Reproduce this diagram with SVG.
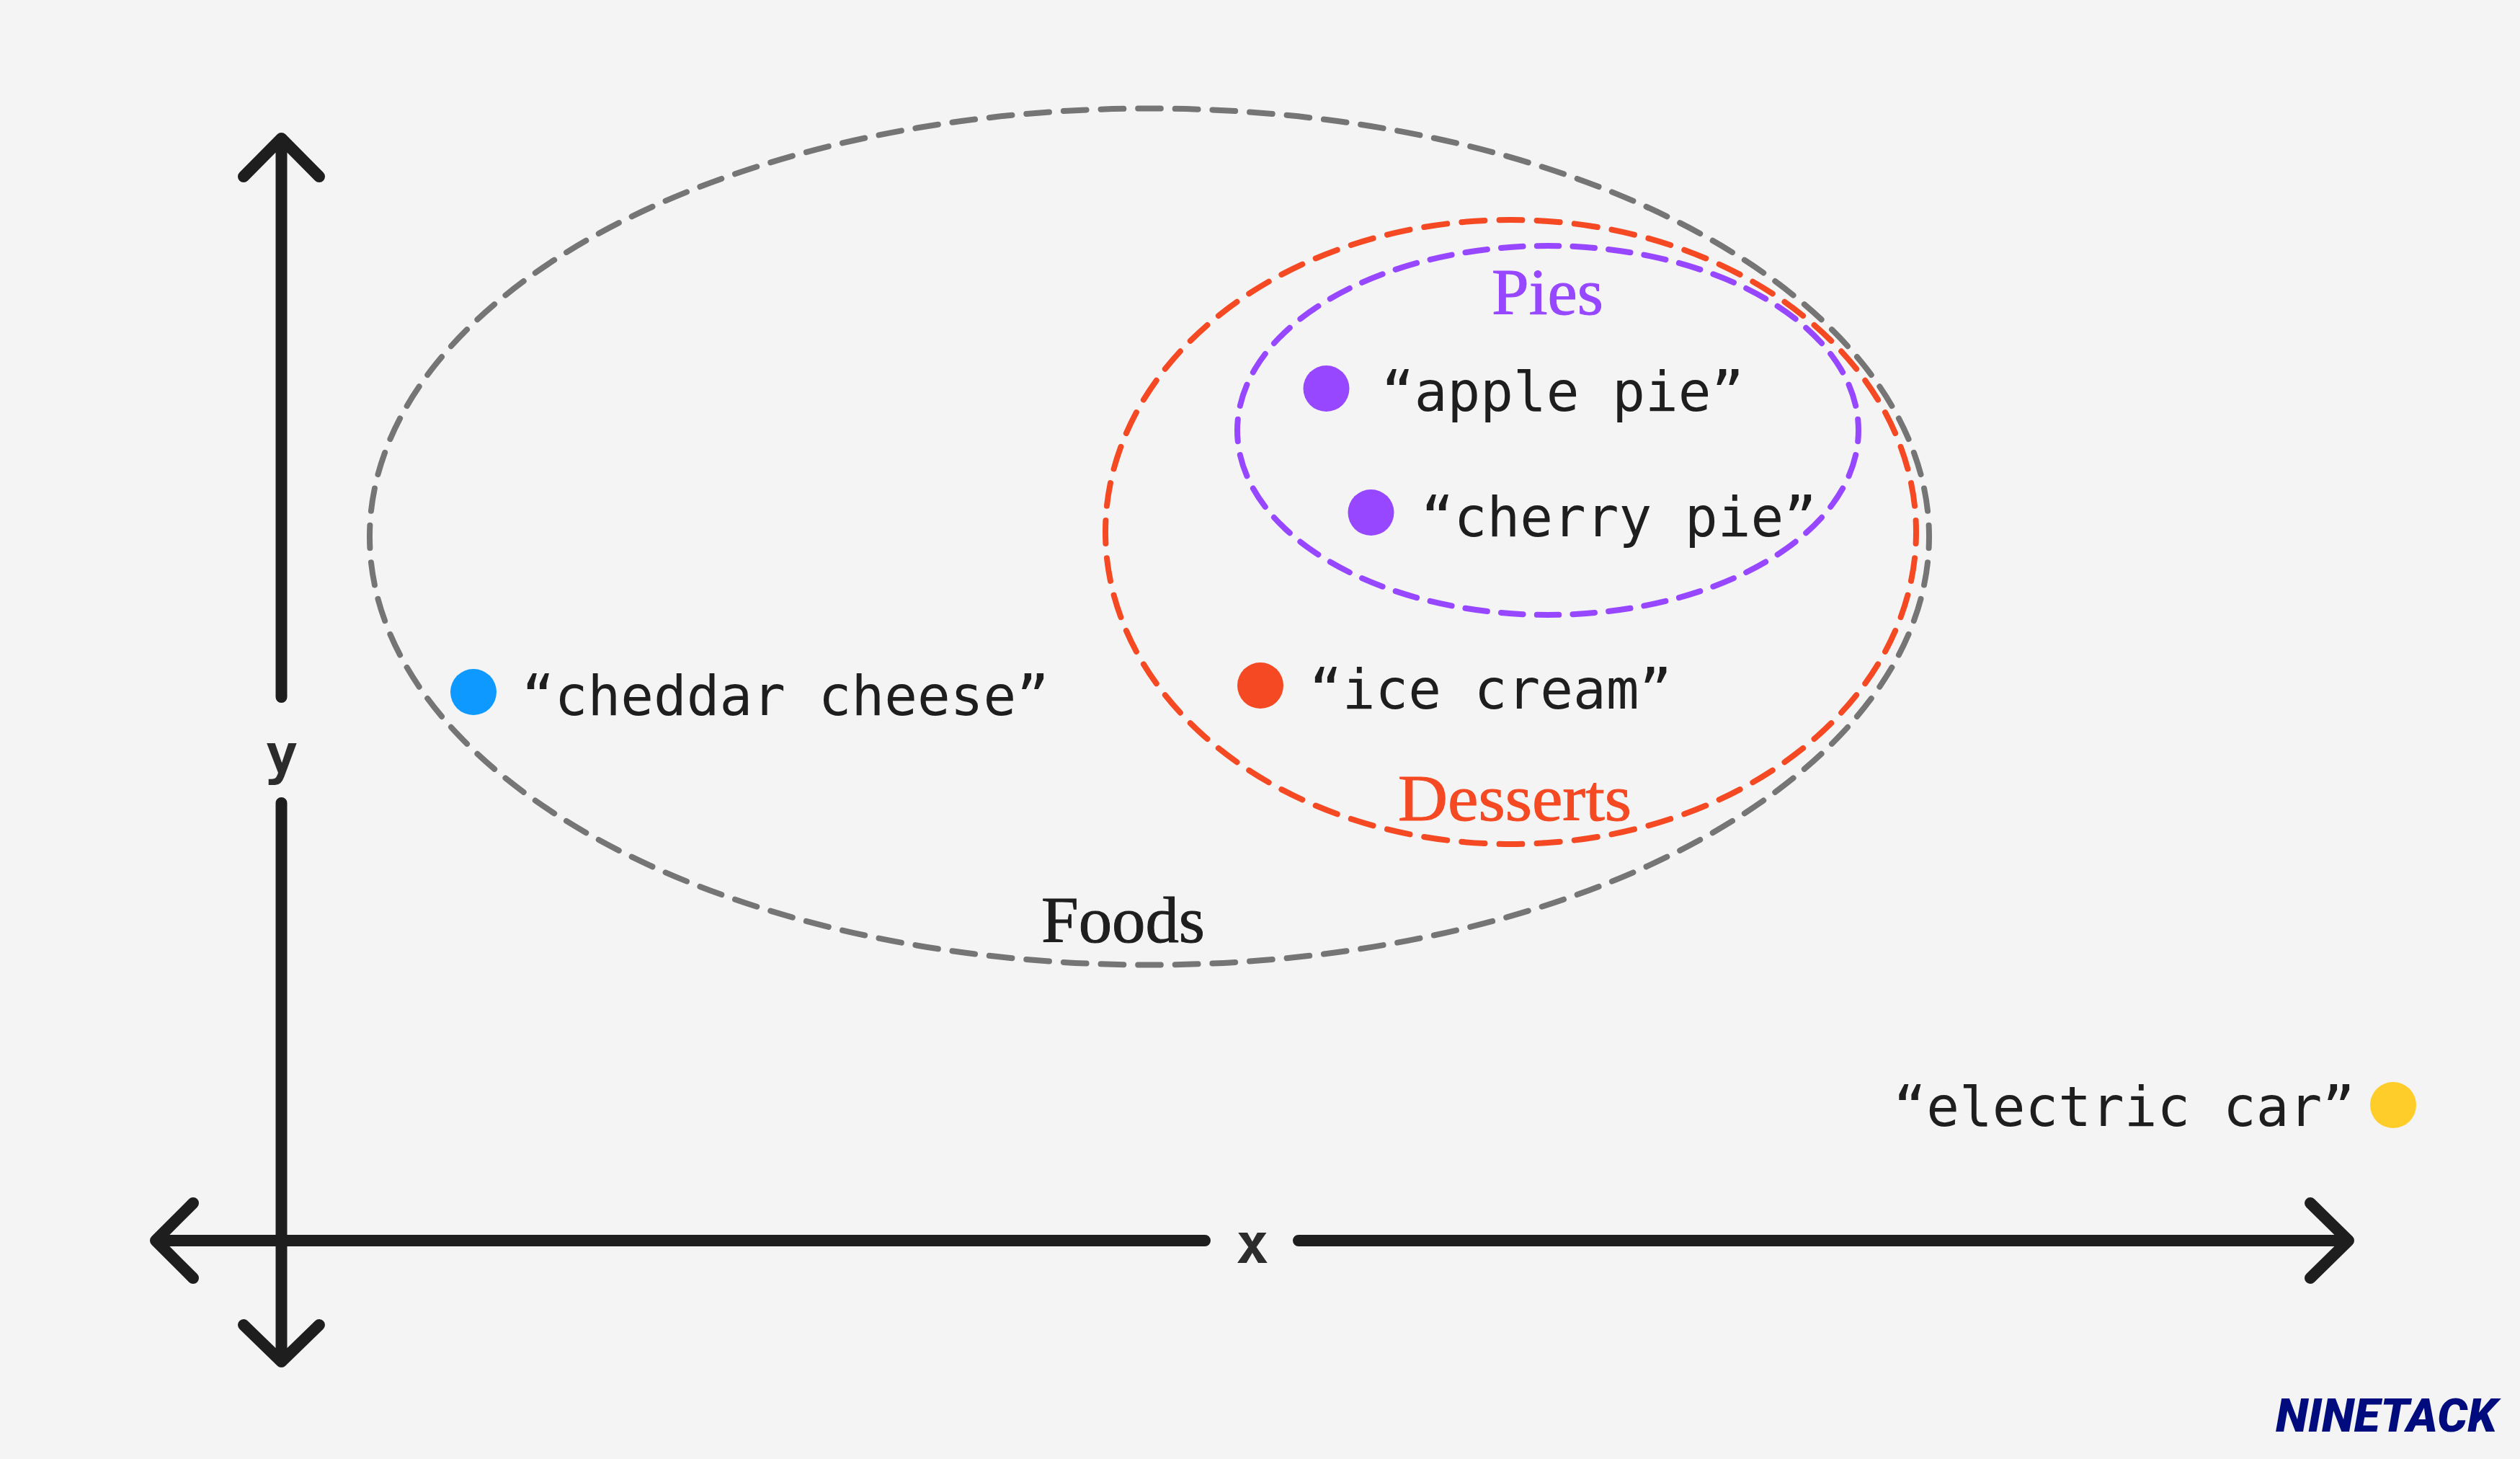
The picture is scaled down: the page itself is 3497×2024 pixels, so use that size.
<svg xmlns="http://www.w3.org/2000/svg" width="3497" height="2024" viewBox="0 0 3497 2024">
<style>
.set{fill:none;stroke-width:8;stroke-linecap:round;stroke-dasharray:32 20;stroke-dashoffset:16}
.axis{fill:none;stroke:#1e1e1e;stroke-width:16;stroke-linecap:round;stroke-linejoin:round}
.m{font-family:"DejaVu Sans Mono","Liberation Mono",monospace;font-size:76px;fill:#1e1e1e}
.s{font-family:"Liberation Serif","Times New Roman",serif;font-size:91px;stroke-width:1}
.a{font-family:"DejaVu Sans Mono","Liberation Mono",monospace;font-size:76px;font-weight:700;fill:#2c2c2c;text-anchor:middle}
</style>
<rect width="3497" height="2024" fill="#f4f4f4"/>
<g id="connectors">
<path class="axis" d="M390.500 967V192M338 245L390.500 192L443 245"/>
<path class="axis" d="M390.500 1114V1889M338 1838L390.500 1889L443 1838"/>
<path class="axis" d="M1672 1721H216M268 1669L216 1721L268 1773"/>
<path class="axis" d="M1802 1721H3259M3206 1669L3259 1721L3206 1773"/>
</g>
<g id="foods">
<ellipse class="set" stroke="#757575" cx="1595" cy="744.500" rx="1082" ry="594" pathLength="5408"/>
<text class="s" x="1445" y="1307" fill="#1e1e1e" stroke="#1e1e1e" textLength="227" lengthAdjust="spacingAndGlyphs">Foods</text>
</g>
<g id="desserts">
<ellipse class="set" stroke="#f54923" cx="2096.500" cy="738" rx="562.500" ry="433" pathLength="3120"/>
<text class="s" x="1940" y="1138" fill="#f54923" stroke="#f54923" textLength="324" lengthAdjust="spacingAndGlyphs">Desserts</text>
</g>
<g id="pies">
<ellipse class="set" stroke="#9747ff" cx="2148" cy="597" rx="431" ry="256" pathLength="2288"/>
<text class="s" x="2070" y="436" fill="#9747ff" stroke="#9747ff" textLength="155" lengthAdjust="spacingAndGlyphs">Pies</text>
</g>
<g id="apple-pie"><circle cx="1840.500" cy="539" r="32" fill="#9747ff"/><text class="m" x="1917" y="570">“apple pie”</text></g>
<g id="cherry-pie"><circle cx="1902.500" cy="711" r="32" fill="#9747ff"/><text class="m" x="1972" y="744">“cherry pie”</text></g>
<g id="ice-cream"><circle cx="1749" cy="951" r="32" fill="#f54923"/><text class="m" x="1817" y="983">“ice cream”</text></g>
<g id="cheddar-cheese"><circle cx="657" cy="960" r="32" fill="#0d99ff"/><text class="m" x="724" y="992">“cheddar cheese”</text></g>
<g id="electric-car"><circle cx="3321" cy="1533" r="32" fill="#ffcd29"/><text class="m" x="3268" y="1562" text-anchor="end">“electric car”</text></g>
<g id="axis-labels">
<text class="a" x="391" y="1073">y</text>
<text class="a" x="1738" y="1752">x</text>
</g>
<g id="brand"><text x="3158" y="1986" font-family="Roboto,'Liberation Sans',sans-serif" font-size="64" font-weight="900" font-style="italic" fill="#000c7d" textLength="307" lengthAdjust="spacingAndGlyphs">NINETACK</text></g>
</svg>
